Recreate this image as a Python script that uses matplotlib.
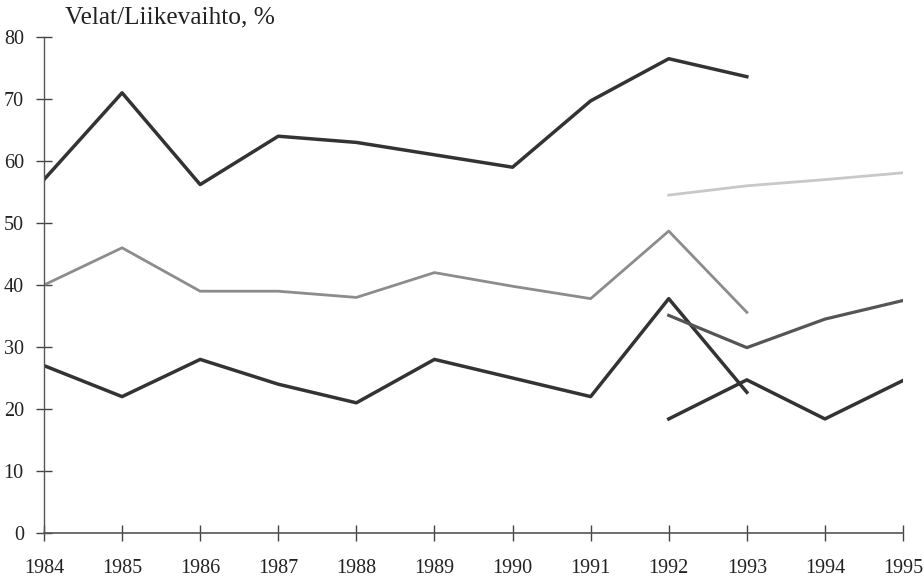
import matplotlib
matplotlib.use("Agg")
import matplotlib.pyplot as plt

plt.rcParams['font.family'] = ['Liberation Serif', 'DejaVu Serif']

years = [1984, 1985, 1986, 1987, 1988, 1989, 1990, 1991, 1992, 1993, 1994, 1995]
years_hist = years[:10]
years_new = years[8:]

# historical series 1984-1993
top_dark = [57, 71, 56.2, 64, 63, 61, 59, 69.7, 76.5, 73.6]
mid_gray = [40, 46, 39, 39, 38, 42, 39.8, 37.8, 48.7, 35.6]
low_dark = [27, 22, 28, 24, 21, 28, 25, 22, 37.8, 22.7]

# new series 1992-1995
new_light = [54.5, 56, 57, 58.1]
new_mid = [35.1, 29.9, 34.5, 37.5]
new_low = [18.4, 24.7, 18.4, 24.6]

fig = plt.figure(figsize=(9.24, 5.81), dpi=100)
ax = fig.add_axes([0.0476, 0.0826, 0.9297, 0.8537])

ax.plot(years_hist, top_dark, color='#333333', lw=2.5)
ax.plot(years_hist, mid_gray, color='#8c8c8c', lw=2.0)
ax.plot(years_hist, low_dark, color='#333333', lw=2.5)
ax.plot(years_new, new_light, color='#c8c8c8', lw=2.0)
ax.plot(years_new, new_mid, color='#555555', lw=2.3)
ax.plot(years_new, new_low, color='#333333', lw=2.5)

ax.set_xlim(1984, 1995)
ax.set_ylim(0, 80)
ax.set_xticks(years)
ax.set_yticks(range(0, 81, 10))

for s in ['top', 'right']:
    ax.spines[s].set_visible(False)
ax.spines['left'].set_color('#555555')
ax.spines['bottom'].set_color('#555555')
ax.spines['left'].set_linewidth(1.0)
ax.spines['bottom'].set_linewidth(1.2)
ax.tick_params(axis='both', direction='inout', length=11, width=1.0,
               color='#444444', labelsize=14.5, labelcolor='#222222')
ax.tick_params(axis='x', pad=13)
ax.tick_params(axis='y', pad=9)

fig.text(0.07, 0.97, 'Velat/Liikevaihto, %', fontsize=18.3, color='#222222',
         va='center', ha='left')

fig.savefig('out.png', dpi=100)
